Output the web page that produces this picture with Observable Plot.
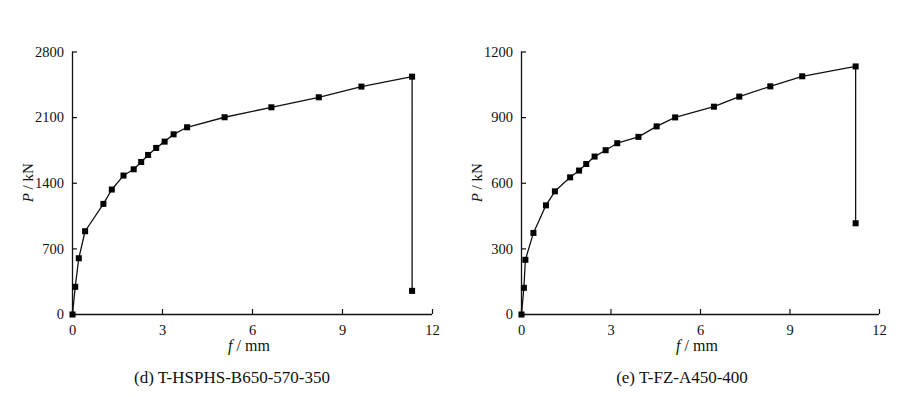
<!DOCTYPE html>
<html>
<head>
<meta charset="utf-8">
<script src="https://cdn.jsdelivr.net/npm/d3@7"></script>
<script src="https://cdn.jsdelivr.net/npm/@observablehq/plot@0.6"></script>
<style>
  html, body { margin: 0; padding: 0; background: #fff; }
  #wrap { display: flex; width: 900px; height: 397px; }
  .panel { width: 450px; height: 397px; }
</style>
</head>
<body>
<div id="wrap"><div class="panel" id="pd"></div><div class="panel" id="pe"></div></div>
<script>
// Panel (d) T-HSPHS-B650-570-350
const dispD = [0, 0.09, 0.21, 0.42, 1.03, 1.31, 1.70, 2.04, 2.29, 2.52, 2.79, 3.07, 3.37, 3.82, 5.07, 6.63, 8.21, 9.63, 11.32, 11.32];
const loadD = [0, 295, 600, 888, 1180, 1333, 1482, 1549, 1627, 1702, 1777, 1844, 1922, 1997, 2104, 2210, 2317, 2431, 2537, 252];
const yTicksD = [0, 700, 1400, 2100, 2800];
const captionD = "(d) T-HSPHS-B650-570-350";

// Panel (e) T-FZ-A450-400
const dispE = [0, 0.08, 0.13, 0.40, 0.82, 1.12, 1.63, 1.93, 2.17, 2.45, 2.82, 3.21, 3.92, 4.53, 5.15, 6.45, 7.30, 8.34, 9.41, 11.20, 11.20];
const loadE = [0, 122, 250, 373, 499, 563, 627, 658, 688, 722, 751, 783, 812, 860, 901, 950, 996, 1043, 1089, 1134, 417];
const yTicksE = [0, 300, 600, 900, 1200];
const captionE = "(e) T-FZ-A450-400";

const xTicks = [0, 3, 6, 9, 12];
const xLabel = ["f", " / mm"];
const yLabel = ["P", " / kN"];

const FONT = "'Liberation Serif', 'Times New Roman', serif";
const INK = "#111";

function panel(el, disp, load, yTicks, caption, mL, mR) {
  const data = disp.map((d, i) => ({f: d, p: load[i]}));
  const yMax = yTicks[yTicks.length - 1];
  const W = 450, H = 397, mT = 51.5, mB = 83;
  const chart = Plot.plot({
    width: W, height: H,
    marginLeft: mL, marginRight: mR, marginTop: mT, marginBottom: mB,
    style: {fontFamily: FONT, fontSize: "14.5px", color: INK, background: "white", overflow: "visible"},
    x: {domain: [0, 12], ticks: xTicks},
    y: {domain: [0, yMax], ticks: yTicks},
    marks: [
      Plot.axisX(xTicks, {tickSize: -5, tickPadding: 15, tickFormat: d => String(d), label: null, stroke: INK, strokeWidth: 1.2, fill: INK}),
      Plot.axisY(yTicks, {tickSize: -5, tickPadding: 13.5, tickFormat: d => String(d), label: null, stroke: INK, strokeWidth: 1.2, fill: INK}),
      Plot.ruleY([0], {x1: 0, x2: 12, stroke: INK, strokeWidth: 1.3}),
      Plot.ruleX([0], {y1: 0, y2: yMax, stroke: INK, strokeWidth: 1.3}),
      Plot.line(data, {x: "f", y: "p", stroke: INK, strokeWidth: 1.3}),
      Plot.dot(data, {x: "f", y: "p", symbol: "square", r: 3.4, fill: "#000", stroke: "none"})
    ]
  });
  el.appendChild(chart);
  const svg = d3.select(chart);
  const cx = (mL + (W - mR)) / 2;
  // x label
  const xt = svg.append("text").attr("x", cx - 3).attr("y", 351).attr("text-anchor", "middle")
    .attr("font-family", FONT).attr("font-size", 16).attr("fill", INK);
  xt.append("tspan").attr("font-style", "italic").text(xLabel[0]);
  xt.append("tspan").text(xLabel[1]);
  // y label
  const yt = svg.append("text").attr("transform", `translate(${mL - 44},${(mT + H - mB) / 2}) rotate(-90)`)
    .attr("text-anchor", "middle").attr("dy", "0.35em")
    .attr("font-family", FONT).attr("font-size", 15).attr("fill", INK);
  yt.append("tspan").attr("font-style", "italic").text(yLabel[0]);
  yt.append("tspan").text(yLabel[1]);
  // caption
  svg.append("text").attr("x", 232).attr("y", 383).attr("text-anchor", "middle")
    .attr("font-family", FONT).attr("font-size", 17).attr("fill", INK).text(caption);
}

panel(document.getElementById("pd"), dispD, loadD, yTicksD, captionD, 72, 18);
panel(document.getElementById("pe"), dispE, loadE, yTicksE, captionE, 71, 21);
</script>
</body>
</html>
